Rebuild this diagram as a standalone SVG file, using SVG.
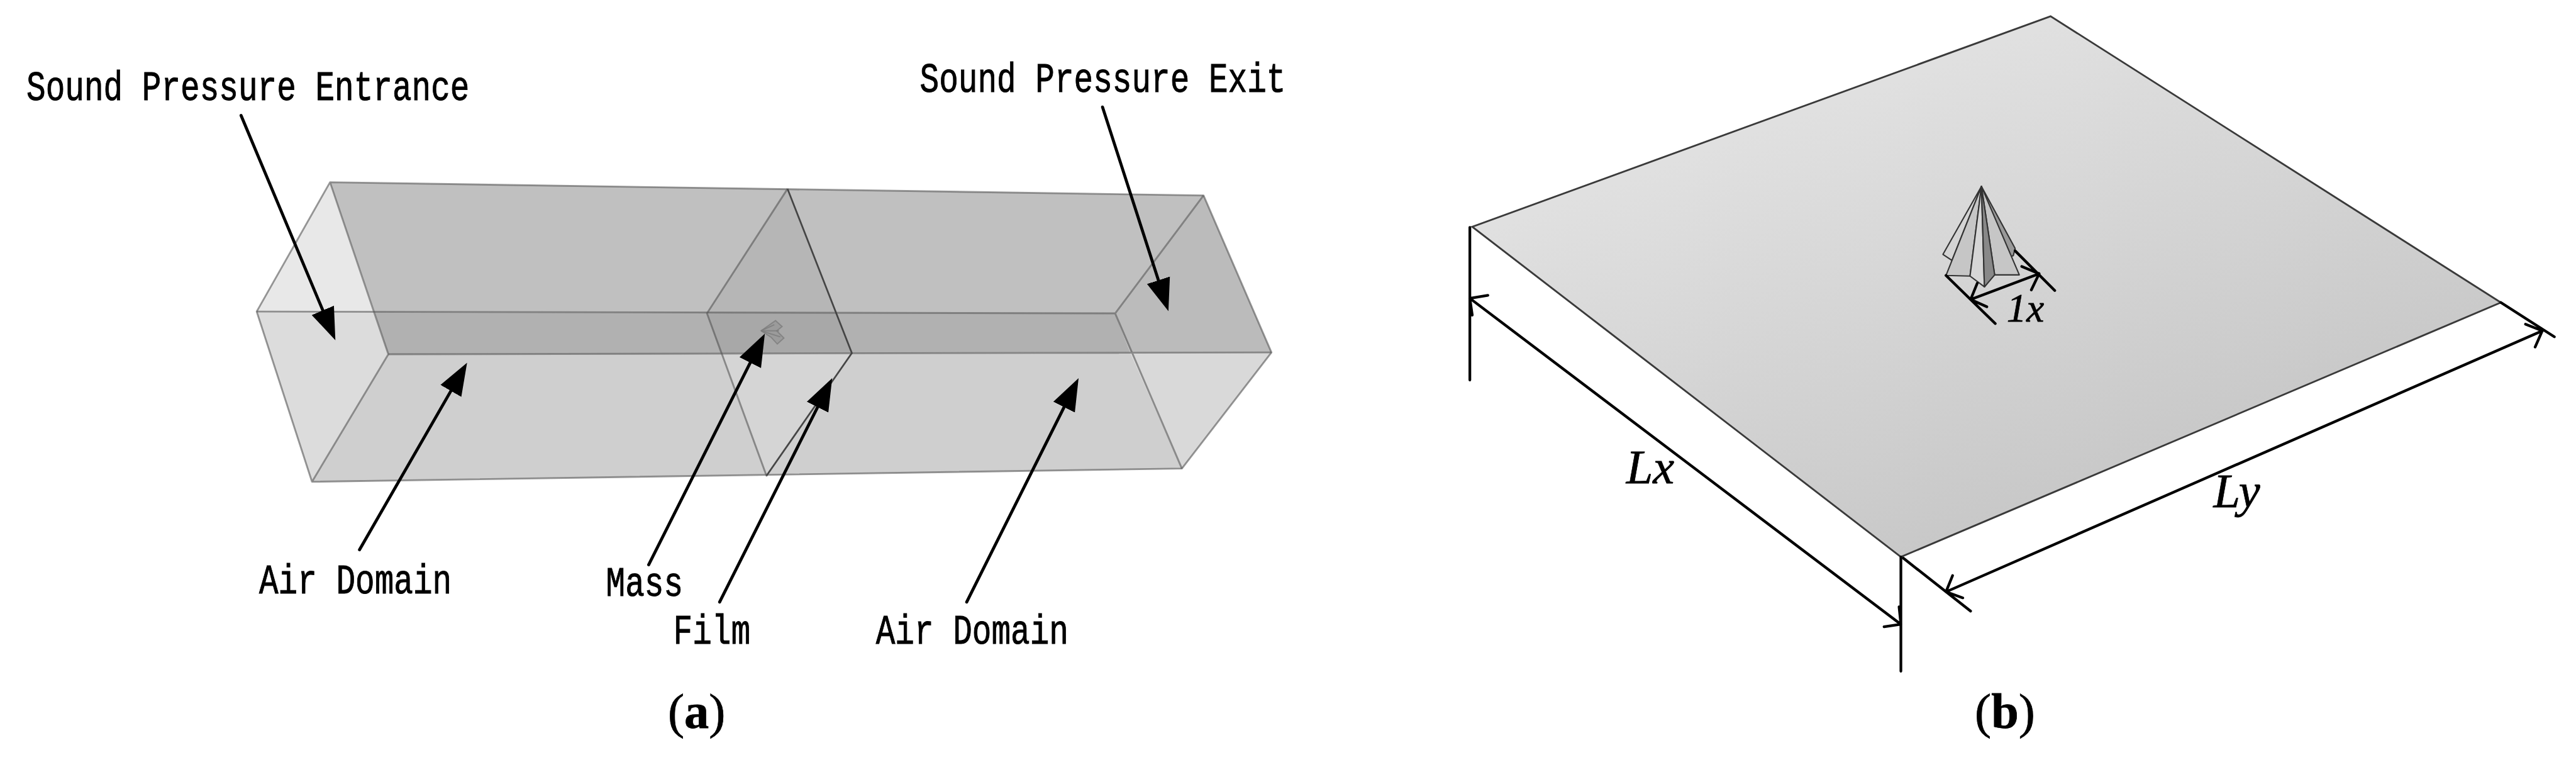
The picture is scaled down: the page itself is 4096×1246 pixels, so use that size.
<svg xmlns="http://www.w3.org/2000/svg" width="4096" height="1246" viewBox="0 0 4096 1246">
<style>
.edge{fill:none;stroke:#555;stroke-opacity:.6;stroke-width:3;stroke-linejoin:round}
.lead{fill:none;stroke:#000;stroke-width:5;stroke-linecap:round;marker-end:url(#head)}
.dim{fill:none;stroke:#000;stroke-width:4.5;stroke-linecap:round;stroke-linejoin:round}
.lbl{font-family:"Liberation Mono",monospace;font-size:53.4px;fill:#000;stroke:#000;stroke-width:.8}
.math{font-family:"Liberation Serif",serif;font-style:italic;fill:#000;stroke:#000;stroke-width:.8}
.cap{font-family:"Liberation Serif",serif;font-size:82px;fill:#000;stroke:#000;stroke-width:.8}
.cap tspan{font-weight:bold}
.py{stroke:#333;stroke-width:2.2;stroke-linejoin:round}
</style>
<defs>
<marker id="head" markerUnits="userSpaceOnUse" markerWidth="56" markerHeight="44" refX="0" refY="22" orient="auto" viewBox="0 0 56 44"><path d="M0,2L54,22L0,42z" fill="#000"/></marker>
<linearGradient id="plate" gradientUnits="userSpaceOnUse" x1="3000" y1="190" x2="3256" y2="895"><stop offset="0" stop-color="#e0e0e0"/><stop offset="1" stop-color="#c8c8c8"/></linearGradient>
</defs>
<g transform="scale(0.95589)">
<g id="duct">
<polygon points="549,303 427,518 623,519" fill="#e8e8e8"/>
<polygon points="427,518 519,801 646,589 623,519" fill="#dcdcdc"/>
<polygon points="549,303 2002,325 1855,521 623,519" fill="#c0c0c0"/>
<polygon points="623,519 1855,521 1880,586 646,589" fill="#b1b1b1"/>
<polygon points="646,589 1880,586 1966,779 519,801" fill="#cfcfcf"/>
<polygon points="2002,325 1855,521 1880,586 2115,586" fill="#bbb"/>
<polygon points="1880,586 2115,586 1966,779" fill="#d9d9d9"/>
<polygon points="1310,314 1176,521 1198,587 1417,587" fill="#000" fill-opacity=".05"/>
<polygon points="1198,587 1417,587 1275,791" fill="#fff" fill-opacity=".14"/>
<path class="edge" d="M549,303L2002,325L2115,586L1966,779L519,801L427,518L549,303L646,589L519,801"/>
<path class="edge" d="M427,518L1855,521L2002,325M1855,521L1966,779M646,589L2115,586"/>
<path class="edge" d="M1310,314L1176,521L1275,791L1417,587L1310,314"/>
<path d="M1310,314L1417,587L1275,791" fill="none" stroke="#444" stroke-width="2.5"/>
</g>
<g id="mass" fill="#8c8c8c" stroke="#777" stroke-width="2" stroke-opacity=".7">
<path d="M1266,550L1290,533L1301,543L1292,550L1304,562L1293,572L1283,561z" fill-opacity=".45"/>
<path d="M1266,550L1296,550M1266,550L1298,560M1266,550L1288,540" fill="none"/>
</g>
<g id="connectors">
<line class="lead" x1="401" y1="192" x2="537" y2="516"/>
<line class="lead" x1="598" y1="914" x2="750" y2="650"/>
<line class="lead" x1="1079" y1="939" x2="1248" y2="603"/>
<line class="lead" x1="1197" y1="1001" x2="1360" y2="677"/>
<line class="lead" x1="1608" y1="1001" x2="1770" y2="677"/>
<line class="lead" x1="1834" y1="178" x2="1927" y2="466"/>
</g>
<g id="labels">
<text class="lbl" transform="translate(44,166) scale(1,1.3)">Sound Pressure Entrance</text>
<text class="lbl" transform="translate(1530,153) scale(1,1.3)">Sound Pressure Exit</text>
<text class="lbl" transform="translate(431,987) scale(1,1.3)">Air Domain</text>
<text class="lbl" transform="translate(1008,991) scale(1,1.3)">Mass</text>
<text class="lbl" transform="translate(1120,1070) scale(1,1.3)">Film</text>
<text class="lbl" transform="translate(1457,1070) scale(1,1.3)">Air Domain</text>
<text class="cap" x="1111" y="1210">(<tspan>a</tspan>)</text>
<text class="cap" x="3285" y="1210">(<tspan>b</tspan>)</text>
</g>
<g id="plate-node">
<polygon points="3411,27 2449,377 3162,926 4160,503" fill="url(#plate)" stroke="#3a3a3a" stroke-width="3"/>
</g>
<g id="pyramid">
<polygon class="py" points="3296,310 3232,423 3247,433" fill="#d4d4d4"/>
<polygon class="py" points="3296,310 3352,413 3349,425 3340,428" fill="#999"/>
<polygon class="py" points="3296,310 3237,458 3277,459" fill="#c6c6c6"/>
<polygon class="py" points="3296,310 3318,457 3359,457" fill="#c6c6c6"/>
<polygon class="py" points="3296,310 3277,459 3301,477" fill="#d6d6d6"/>
<polygon class="py" points="3296,310 3301,477 3318,457" fill="#888"/>
</g>
<g id="dimensions">
<path class="dim" d="M2445,378V632M3162,926V1116M2445,496L3162,1038M2475,491L2445,496L2449,524M3134,1042L3162,1038L3159,1009"/>
<path class="dim" d="M3166,928L3278,1016M4160,503L4249,560M3237,984L4229,550M3248,957L3237,984L3265,994M4201,539L4229,550L4217,577"/>
<path class="dim" d="M3237,458L3319,538M3352,417L3418,483M3278,498L3392,455M3289,471L3278,498L3305,510M3363,443L3392,455L3379,482"/>
<text class="math" x="2705" y="803" font-size="80">Lx</text>
<text class="math" x="3682" y="843" font-size="80">Ly</text>
<text class="math" x="3338" y="535" font-size="66">1x</text>
</g>
</g>
</svg>
